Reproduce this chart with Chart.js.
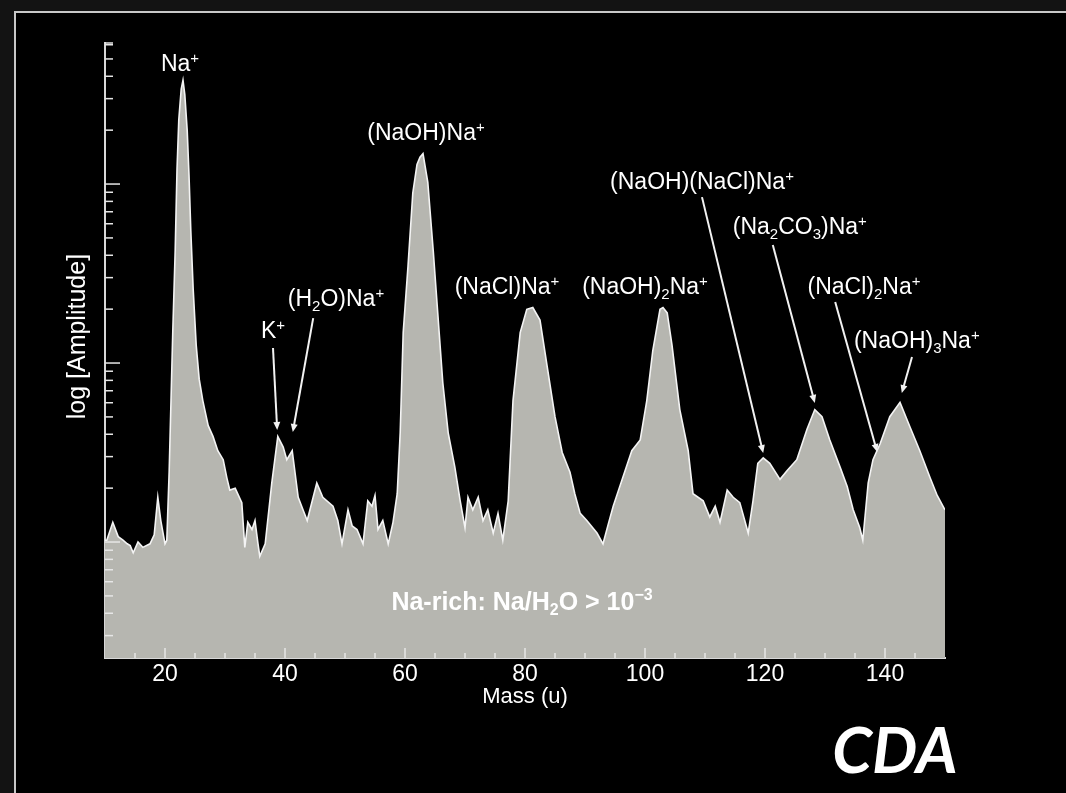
<!DOCTYPE html>
<html>
<head>
<meta charset="utf-8">
<script src="https://cdn.jsdelivr.net/npm/chart.js@4.4.1/dist/chart.umd.min.js"></script>
<style>
  html, body { margin: 0; padding: 0; width: 1066px; height: 793px; overflow: hidden; background: #131313; }
  #frame { position: absolute; left: 14px; top: 11px; right: 0; bottom: 0; background: #000;
           border-left: 2px solid #c8c8c8; border-top: 2px solid #c8c8c8; }
  #spectrum { position: absolute; left: 0; top: 0; }
</style>
</head>
<body>
<div id="frame"></div>
<canvas id="spectrum" width="1066" height="793"></canvas>
<script>
// mass spectrum (mass in u, amplitude as log10)
var mass = [
  10.0, 10.3, 11.3, 12.2, 13.0, 13.7, 14.2, 14.7, 15.5, 16.3,
  17.5, 18.2, 18.8, 19.3, 20.0, 20.3, 20.7, 21.0, 21.3, 21.7,
  22.0, 22.3, 22.7, 23.0, 23.3, 23.7, 24.0, 24.3, 24.7, 25.2,
  25.7, 26.3, 27.2, 28.0, 28.8, 29.7, 30.3, 30.8, 31.7, 32.8,
  33.3, 33.8, 34.5, 35.0, 35.5, 35.8, 36.7, 37.8, 38.8, 39.7,
  40.3, 41.2, 42.2, 43.0, 43.7, 45.3, 46.3, 48.0, 48.8, 49.5,
  50.5, 51.2, 52.0, 53.0, 53.8, 54.5, 55.0, 55.5, 56.3, 57.2,
  58.0, 58.7, 59.2, 59.7, 60.5, 61.3, 62.0, 62.5, 63.0, 63.8,
  64.7, 65.5, 66.3, 67.2, 68.3, 69.2, 70.0, 70.5, 71.3, 72.2,
  73.0, 73.8, 74.7, 75.5, 76.3, 77.2, 78.0, 79.2, 80.3, 81.3,
  82.5, 83.7, 85.0, 86.2, 87.5, 88.3, 89.2, 90.3, 92.0, 93.0,
  93.8, 94.7, 96.3, 97.8, 99.2, 100.3, 101.3, 102.5, 103.0, 103.7,
  104.5, 105.8, 107.2, 108.0, 109.7, 110.8, 111.7, 112.5, 113.7, 114.7,
  115.8, 117.2, 118.0, 118.8, 119.7, 120.8, 122.5, 123.7, 125.3, 127.0,
  128.3, 129.5, 130.8, 132.5, 133.7, 134.7, 135.8, 136.3, 137.2, 138.0,
  139.2, 140.8, 142.5, 144.2, 145.8, 147.5, 148.7, 150.0
];
var logAmp = [
  0.01, 0.01, 0.11, 0.03, 0.01, -0.01, -0.02, -0.06, 0.00, -0.03,
  -0.01, 0.04, 0.25, 0.12, -0.01, 0.01, 0.40, 0.79, 1.18, 1.63,
  2.08, 2.36, 2.53, 2.58, 2.50, 2.30, 2.05, 1.74, 1.41, 1.10,
  0.91, 0.79, 0.65, 0.59, 0.51, 0.46, 0.36, 0.29, 0.30, 0.22,
  -0.03, 0.11, 0.07, 0.12, -0.01, -0.08, -0.01, 0.33, 0.59, 0.53,
  0.46, 0.51, 0.25, 0.18, 0.12, 0.33, 0.25, 0.20, 0.12, -0.01,
  0.18, 0.09, 0.07, -0.01, 0.23, 0.20, 0.26, 0.07, 0.12, -0.01,
  0.11, 0.27, 0.61, 1.17, 1.54, 1.95, 2.11, 2.15, 2.17, 2.01,
  1.63, 1.26, 0.89, 0.61, 0.42, 0.23, 0.08, 0.25, 0.18, 0.25,
  0.12, 0.18, 0.05, 0.16, 0.01, 0.23, 0.79, 1.17, 1.30, 1.31,
  1.24, 0.98, 0.70, 0.50, 0.39, 0.27, 0.16, 0.12, 0.05, -0.01,
  0.09, 0.20, 0.36, 0.51, 0.57, 0.79, 1.07, 1.30, 1.31, 1.28,
  1.10, 0.74, 0.51, 0.27, 0.23, 0.14, 0.20, 0.11, 0.29, 0.25,
  0.22, 0.05, 0.23, 0.44, 0.47, 0.44, 0.35, 0.40, 0.46, 0.63,
  0.74, 0.70, 0.57, 0.42, 0.31, 0.18, 0.08, 0.01, 0.33, 0.46,
  0.55, 0.70, 0.78, 0.64, 0.51, 0.36, 0.26, 0.18
];

// axis ranges and tick labels
var massMin = 10, massMax = 150;
var logMin = -0.648, logMax = 2.788;
var massTicks = [20, 40, 60, 80, 100, 120, 140];

// peak labels: _{} subscript, ^{} superscript
var ionNames = ['Na^{+}', 'K^{+}', '(H_{2}O)Na^{+}', '(NaOH)Na^{+}', '(NaCl)Na^{+}', '(NaOH)_{2}Na^{+}',
                '(NaOH)(NaCl)Na^{+}', '(Na_{2}CO_{3})Na^{+}', '(NaCl)_{2}Na^{+}', '(NaOH)_{3}Na^{+}'];
var ionMass  = [22.5, 38.0, 48.5, 63.5, 77.0, 100.0, 109.5, 125.8, 136.5, 145.3];
var ionLevel = [2.665, 1.173, 1.352, 2.28, 1.42, 1.42, 2.006, 1.754, 1.42, 1.117];

// arrows from label to peak
var arrowFromMass  = [38.0, 44.7, 109.5, 121.3, 131.7, 144.5];
var arrowFromLevel = [1.084, 1.251, 1.927, 1.659, 1.341, 1.034];
var arrowToMass    = [38.7, 41.3, 119.7, 128.3, 138.7, 142.8];
var arrowToLevel   = [0.626, 0.615, 0.497, 0.777, 0.503, 0.832];

var noteText = 'Na-rich: Na/H_{2}O > 10^{−3}';
var noteMass = 79.5, noteLevel = -0.341;

var sans = '"Liberation Sans", Arial, sans-serif';

function richParts(str) {
  var parts = [], re = /(_|\^)\{([^}]*)\}/g, last = 0, m;
  while ((m = re.exec(str))) {
    if (m.index > last) parts.push({t: str.slice(last, m.index), k: 'n'});
    parts.push({t: m[2], k: m[1] == '_' ? 'sub' : 'sup'});
    last = re.lastIndex;
  }
  if (last < str.length) parts.push({t: str.slice(last), k: 'n'});
  return parts;
}

function drawRich(ctx, str, cx, cy, size, weight) {
  var parts = richParts(str);
  var small = Math.round(size * 0.64);
  var total = 0;
  parts.forEach(function(p) {
    ctx.font = weight + ' ' + (p.k == 'n' ? size : small) + 'px ' + sans;
    p.w = ctx.measureText(p.t).width;
    total += p.w;
  });
  var x = cx - total / 2;
  ctx.textAlign = 'left';
  ctx.textBaseline = 'middle';
  parts.forEach(function(p) {
    ctx.font = weight + ' ' + (p.k == 'n' ? size : small) + 'px ' + sans;
    var dy = p.k == 'sub' ? size * 0.3 : (p.k == 'sup' ? -size * 0.28 : 0);
    ctx.fillText(p.t, x, cy + dy);
    x += p.w;
  });
}

var decorations = {
  id: 'decorations',
  afterDatasetsDraw: function(chart) {
    var ctx = chart.ctx, xs = chart.scales.x, ys = chart.scales.y;
    var area = chart.chartArea;
    ctx.save();
    ctx.strokeStyle = '#e6e6e6';
    ctx.lineWidth = 1.5;

    // y tick marks, pointing inward
    for (var n = -1; n <= 2; n++) {
      for (var k = 1; k <= 9; k++) {
        var v = n + Math.log10(k);
        if (v < logMin || v > logMax + 0.01) continue;
        var py = ys.getPixelForValue(v);
        ctx.beginPath();
        ctx.moveTo(area.left, py);
        ctx.lineTo(area.left + (k == 1 ? 15 : 8), py);
        ctx.stroke();
      }
    }
    ctx.beginPath();
    ctx.moveTo(area.left, ys.getPixelForValue(logMax));
    ctx.lineTo(area.left + 8, ys.getPixelForValue(logMax));
    ctx.stroke();

    // x tick marks
    for (var m = 15; m <= 145; m += 5) {
      var px = xs.getPixelForValue(m);
      ctx.beginPath();
      ctx.moveTo(px, area.bottom);
      ctx.lineTo(px, area.bottom - (m % 20 == 0 ? 10 : 5));
      ctx.stroke();
    }

    // arrows
    ctx.strokeStyle = '#f2f2f2';
    ctx.fillStyle = '#f2f2f2';
    ctx.lineWidth = 2;
    for (var i = 0; i < arrowFromMass.length; i++) {
      var x0 = xs.getPixelForValue(arrowFromMass[i]), y0 = ys.getPixelForValue(arrowFromLevel[i]);
      var x1 = xs.getPixelForValue(arrowToMass[i]), y1 = ys.getPixelForValue(arrowToLevel[i]);
      var a = Math.atan2(y1 - y0, x1 - x0);
      ctx.beginPath();
      ctx.moveTo(x0, y0);
      ctx.lineTo(x1 - 5 * Math.cos(a), y1 - 5 * Math.sin(a));
      ctx.stroke();
      ctx.beginPath();
      ctx.moveTo(x1, y1);
      ctx.lineTo(x1 - 8 * Math.cos(a) + 3.5 * Math.sin(a), y1 - 8 * Math.sin(a) - 3.5 * Math.cos(a));
      ctx.lineTo(x1 - 8 * Math.cos(a) - 3.5 * Math.sin(a), y1 - 8 * Math.sin(a) + 3.5 * Math.cos(a));
      ctx.closePath();
      ctx.fill();
    }

    // peak labels
    ctx.fillStyle = '#ffffff';
    for (var j = 0; j < ionNames.length; j++) {
      drawRich(ctx, ionNames[j], xs.getPixelForValue(ionMass[j]), ys.getPixelForValue(ionLevel[j]), 23, 'normal');
    }
    drawRich(ctx, noteText, xs.getPixelForValue(noteMass), ys.getPixelForValue(noteLevel), 25, 'bold');

    // instrument tag
    ctx.font = 'italic 700 64px Lato, "Open Sans", sans-serif';
    ctx.textAlign = 'center';
    ctx.textBaseline = 'alphabetic';
    ctx.fillText('CDA', 895, 773);
    ctx.restore();
  }
};

var points = mass.map(function(m, i) { return {x: m, y: logAmp[i]}; });

new Chart(document.getElementById('spectrum'), {
  type: 'line',
  data: {
    datasets: [{
      data: points,
      borderColor: '#f4f4f4',
      borderWidth: 1.6,
      backgroundColor: '#b6b6b0',
      fill: 'start',
      pointRadius: 0,
      tension: 0
    }]
  },
  options: {
    responsive: false,
    animation: false,
    devicePixelRatio: 1,
    layout: { padding: { top: 43, right: 121, left: 0, bottom: 0 } },
    plugins: { legend: { display: false }, tooltip: { enabled: false } },
    scales: {
      x: {
        type: 'linear',
        min: massMin,
        max: massMax,
        afterBuildTicks: function(scale) { scale.ticks = massTicks.map(function(v) { return {value: v}; }); },
        afterFit: function(scale) { scale.height = 135; },
        grid: { drawOnChartArea: false, drawTicks: false },
        border: { color: '#d8d8d8', width: 2 },
        ticks: { color: '#ffffff', padding: 3, font: { size: 23, family: sans } },
        title: { display: true, text: 'Mass (u)', color: '#ffffff', padding: { top: 0, bottom: 83 },
                 font: { size: 22, family: sans } }
      },
      y: {
        type: 'linear',
        min: logMin,
        max: logMax,
        afterFit: function(scale) { scale.width = 105; },
        grid: { drawOnChartArea: false, drawTicks: false },
        border: { color: '#d8d8d8', width: 2 },
        ticks: { display: false },
        title: { display: true, text: '    log [Amplitude]', color: '#ffffff', padding: { top: 63, bottom: 0 },
                 font: { size: 25, family: sans } }
      }
    }
  },
  plugins: [decorations]
});
</script>
</body>
</html>
